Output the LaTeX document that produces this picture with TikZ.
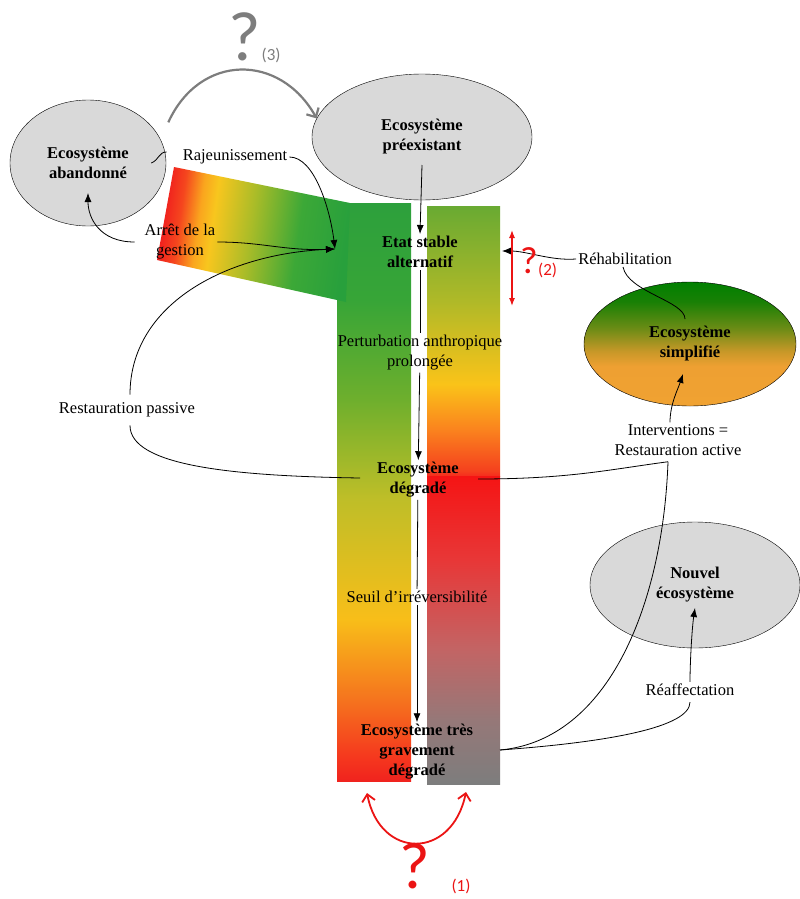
\documentclass[tikz,border=0pt]{standalone}
\usepackage{fontspec}
\setmainfont{Liberation Serif}
\newfontfamily\qfont{Carlito}
\usepackage{xcolor}
\usepackage{tikz}
\usetikzlibrary{shapes,arrows,arrows.meta,positioning,calc}

\newcommand{\labelsize}{\fontsize{16.5}{20}\selectfont}

\definecolor{ecogrey}{RGB}{217,217,217}
\definecolor{qgrey}{RGB}{125,125,125}
\definecolor{qred}{RGB}{235,20,20}

% left column, bottom (red) to top (green)
\definecolor{lcA}{RGB}{240,35,30}
\definecolor{lcB}{RGB}{245,55,30}
\definecolor{lcC}{RGB}{245,115,30}
\definecolor{lcD}{RGB}{248,190,25}
\definecolor{lcE}{RGB}{190,190,40}
\definecolor{lcF}{RGB}{110,175,45}
\definecolor{lcG}{RGB}{55,165,55}
\definecolor{lcH}{RGB}{45,160,60}
\pgfdeclareverticalshading{leftcol}{100bp}{color(0bp)=(lcA); color(25bp)=(lcA); color(27bp)=(lcB); color(32bp)=(lcC); color(39bp)=(lcD); color(49.5bp)=(lcE); color(58bp)=(lcF); color(66.6bp)=(lcG); color(75bp)=(lcH); color(100bp)=(lcH)}

% right column, upper part
\definecolor{rtA}{RGB}{245,45,30}
\definecolor{rtB}{RGB}{245,65,30}
\definecolor{rtC}{RGB}{250,130,30}
\definecolor{rtD}{RGB}{250,195,25}
\definecolor{rtE}{RGB}{175,185,40}
\definecolor{rtF}{RGB}{105,170,50}
\pgfdeclareverticalshading{righttop}{100bp}{color(0bp)=(rtA); color(25bp)=(rtA); color(26bp)=(rtB); color(33.5bp)=(rtC); color(42bp)=(rtD); color(57.5bp)=(rtE); color(75bp)=(rtF); color(100bp)=(rtF)}

% right column, lower part
\definecolor{rbA}{RGB}{125,125,125}
\definecolor{rbB}{RGB}{150,120,120}
\definecolor{rbC}{RGB}{195,100,100}
\definecolor{rbD}{RGB}{232,55,55}
\definecolor{rbE}{RGB}{245,20,20}
\pgfdeclareverticalshading{rightbot}{100bp}{color(0bp)=(rbA); color(25bp)=(rbA); color(35.5bp)=(rbB); color(47bp)=(rbC); color(61.5bp)=(rbD); color(75bp)=(rbE); color(100bp)=(rbE)}

% tilted band
\definecolor{bdA}{RGB}{240,30,30}
\definecolor{bdB}{RGB}{245,70,30}
\definecolor{bdC}{RGB}{250,165,30}
\definecolor{bdD}{RGB}{248,198,30}
\definecolor{bdE}{RGB}{170,188,40}
\definecolor{bdF}{RGB}{60,168,55}
\definecolor{bdG}{RGB}{40,160,60}
\pgfdeclarehorizontalshading{band}{100bp}{color(0bp)=(bdA); color(25bp)=(bdA); color(29.7bp)=(bdB); color(34.8bp)=(bdC); color(38.7bp)=(bdD); color(49bp)=(bdE); color(62bp)=(bdF); color(75bp)=(bdG); color(100bp)=(bdG)}

% simplified ecosystem
\definecolor{smA}{RGB}{240,162,50}
\definecolor{smB}{RGB}{238,160,50}
\definecolor{smC}{RGB}{200,152,40}
\definecolor{smD}{RGB}{110,140,22}
\definecolor{smE}{RGB}{25,128,5}
\definecolor{smF}{RGB}{0,128,0}
\pgfdeclareverticalshading{simplshade}{100bp}{color(0bp)=(smA); color(25bp)=(smA); color(41bp)=(smB); color(47bp)=(smC); color(56bp)=(smD); color(67bp)=(smE); color(75bp)=(smF); color(100bp)=(smF)}

\begin{document}
\begin{tikzpicture}[x=1pt, y=-1pt,
    eco/.style={ellipse, draw, thin, fill=ecogrey, font=\labelsize\bfseries, align=center, inner sep=0pt},
    state/.style={font=\labelsize\bfseries, align=center, inner sep=2pt},
    lbl/.style={font=\labelsize, align=center, inner sep=2pt},
    link/.style={draw, black, line width=0.8pt},
    arr/.style={-{Latex[length=9pt,width=7pt]}},
    qmark/.style={inner sep=0pt}]

    \useasboundingbox (0,0) rectangle (800,899);

    % Columns and band
    \shade[shading=leftcol] (337,203) rectangle (411,781);
    \shade[shading=righttop] (427,206) rectangle (500,476);
    \shade[shading=rightbot] (427,476) rectangle (500,784);
    \shade[shading=band, shading angle=-8] (174,167) -- (350,203) -- (346,302) -- (157,260) -- cycle;

    % Ecosystems
    \node[eco, minimum width=156pt, minimum height=126pt] (abandon) at (88,163) {Ecosystème\\abandonné};
    \node[eco, minimum width=220pt, minimum height=126pt] (preex) at (422,137) {Ecosystème\\préexistant};
    \node[eco, shading=simplshade, minimum width=212pt, minimum height=124pt] (simpl) at (690,344) {Ecosystème\\simplifié};
    \node[eco, minimum width=210pt, minimum height=126pt] (nouvel) at (695,585) {Nouvel\\écosystème};

    % States along the columns
    \node[state] (etat) at (420,252) {Etat stable\\alternatif};
    \node[lbl] (pert) at (420,353) {Perturbation anthropique\\prolongée};
    \node[state] (degr) at (418,480) {Ecosystème\\dégradé};
    \node[lbl] (seuil) at (417,597) {Seuil d’irréversibilité};
    \node[state] (tres) at (417,752) {Ecosystème très\\gravement\\dégradé};

    % Processes
    \node[lbl] (rajeun) at (235,157) {Rajeunissement};
    \node[lbl] (arret) at (180,242) {Arrêt de la\\gestion};
    \node[lbl] (respass) at (127,410) {Restauration passive};
    \node[lbl] (rehab) at (625,259) {Réhabilitation};
    \node[lbl] (interv) at (678,440) {Interventions =\\Restauration active};
    \node[lbl] (reaff) at (690,690) {Réaffectation};

    % Points on the columns
    \coordinate (etatin) at (335,249);
    \coordinate (rehabin) at (502,251);
    \coordinate (degrL) at (360,478);
    \coordinate (degrR) at (478,479);
    \coordinate (tresR) at (500,750);
    \coordinate (intervfoot) at ([xshift=-10pt,yshift=-4pt]interv.south);

    % Main trajectory
    \draw[link, arr] ([yshift=-28pt]preex.center) -- (etat.north);
    \draw[link] (etat) -- (pert);
    \draw[link, arr] (pert) -- (degr);
    \draw[link] (degr) -- (seuil);
    \draw[link, arr] (seuil) -- (tres);

    % Left side
    \draw[link] ([xshift=-14pt,yshift=5pt]rajeun.west) .. controls +(-8,0) and +(8,-3) .. ([xshift=-15pt]abandon.east);
    \draw[link, arr] (rajeun.east) .. controls +(25,0) and +(-5,-40) .. (etatin);
    \draw[link, arr] (arret.east) .. controls +(45,0) and +(-50,2) .. (etatin);
    \draw[link, arr] ([xshift=-8pt]arret.west) .. controls +(-35,0) and +(0,25) .. ([yshift=-30pt]abandon.center);
    \draw[link, arr] ([xshift=3pt,yshift=6pt]respass.north) .. controls +(0,-90) and +(-110,5) .. (etatin);
    \draw[link] (degrL) .. controls +(-130,-2) and +(0,40) .. ([xshift=3pt,yshift=-6pt]respass.south);

    % Right side
    \draw[link, arr] (rehab.west) .. controls +(-25,2) and +(25,0) .. (rehabin);
    \draw[link] ([xshift=-2pt]rehab.south) .. controls +(5,25) and +(0,-18) .. ([xshift=-5pt,yshift=25pt]simpl.center);
    \draw[link, arr] ([xshift=-8pt]interv.north) .. controls +(0,-18) and +(-5,15) .. ([xshift=-7pt,yshift=-30pt]simpl.center);
    \draw[link] (degrR) .. controls +(90,0) and +(-60,8) .. (intervfoot);
    \draw[link] (intervfoot) .. controls +(-5,140) and +(110,-10) .. (tresR);
    \draw[link] (tresR) .. controls +(110,-8) and +(0,25) .. ([yshift=-4pt]reaff.south);
    \draw[link, arr] (reaff.north) .. controls +(0,-20) and +(-3,20) .. ([yshift=-23pt]nouvel.center);

    % Open questions
    \draw[qgrey, line width=2.2pt, -{Straight Barb[length=7pt,width=14pt]}] ([xshift=25pt,yshift=-4pt]abandon.north east) .. controls (200,53) and (280,53) .. (preex.170);
    \node[qmark, qgrey, font=\qfont\fontsize{70}{70}\selectfont] (q3) at (245,37) {?};
    \node[qmark, qgrey, font=\qfont\fontsize{17}{17}\selectfont, right=0pt of q3, yshift=-18pt] (q3num) {(3)};

    \coordinate (q2top) at (512,230);
    \coordinate (q2bot) at (512,306);
    \draw[qred, line width=1.3pt, {Latex[length=8pt,width=6pt]}-{Latex[length=8pt,width=6pt]}] (q2top) -- (q2bot);
    \node[qmark, qred, font=\qfont\fontsize{38}{38}\selectfont] (q2) at (529,261) {?};
    \node[qmark, qred, font=\qfont\fontsize{17}{17}\selectfont, right=0pt of q2, yshift=-9pt] (q2num) {(2)};

    \coordinate (q1L) at (367,793);
    \coordinate (q1R) at (466,792);
    \draw[qred, line width=1.8pt, {Straight Barb[length=7pt,width=13pt]}-{Straight Barb[length=7pt,width=13pt]}] (q1L) .. controls (380,860) and (452,860) .. (q1R);
    \node[qmark, qred, font=\qfont\fontsize{66}{66}\selectfont] (q1) at (415,866) {?};
    \node[qmark, qred, font=\qfont\fontsize{17}{17}\selectfont] (q1num) at (461,886) {(1)};

\end{tikzpicture}
\end{document}
